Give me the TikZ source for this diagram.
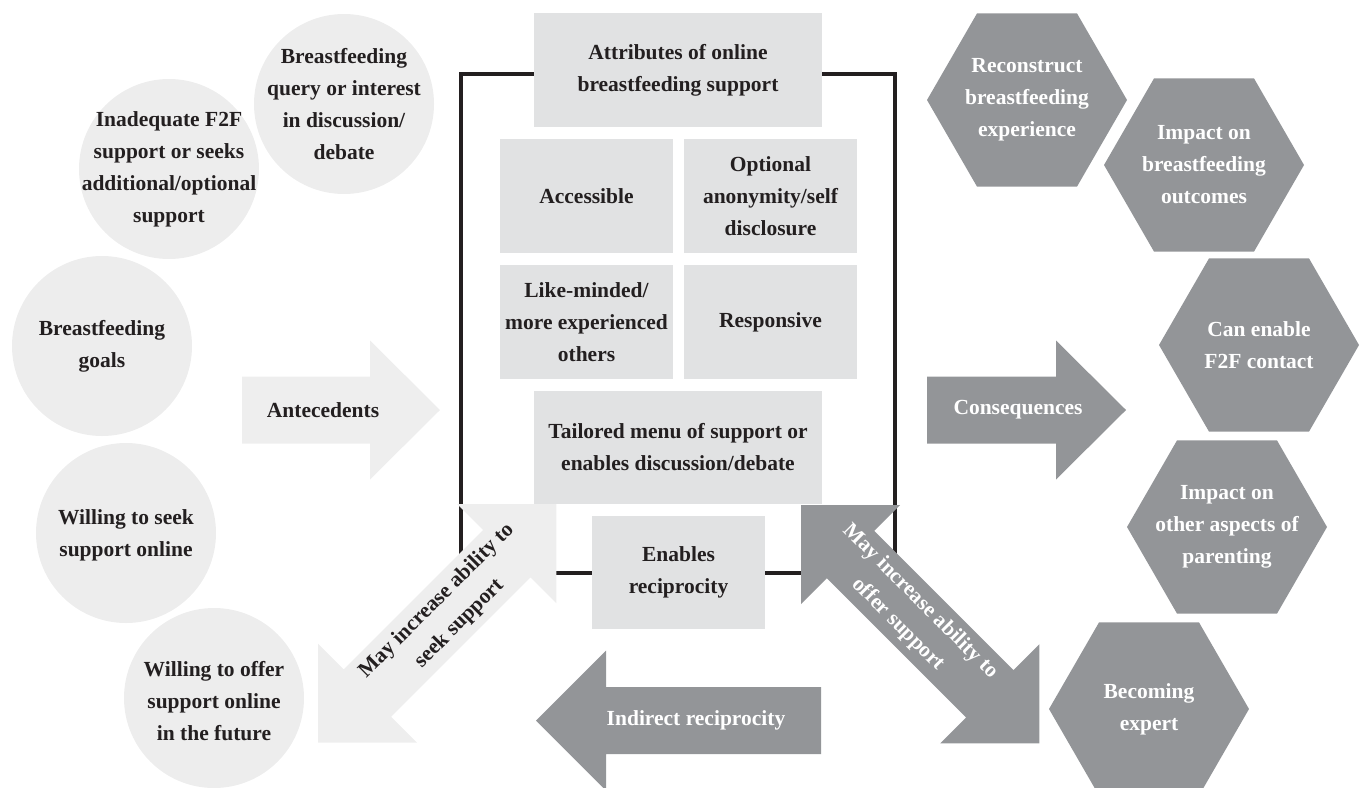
\documentclass[tikz,border=0pt]{standalone}
\usepackage{fontspec}
\setmainfont{Liberation Serif}
\usetikzlibrary{shapes.geometric}
\definecolor{circfill}{HTML}{EDEDED}
\definecolor{boxfill}{HTML}{E1E2E3}
\definecolor{lightarrow}{HTML}{EEEEEE}
\definecolor{darkfill}{HTML}{939598}
\definecolor{txt}{HTML}{231F20}
\begin{document}
\begin{tikzpicture}[x=1pt,y=-1pt,
  every node/.style={font=\fontsize{21.5}{32}\selectfont\bfseries, align=center, inner sep=0pt},
  circ/.style={circle, fill=circfill, minimum size=180pt},
  attr/.style={rectangle, fill=boxfill, text=txt, minimum width=173pt, minimum height=114pt},
  wideattr/.style={attr, minimum width=288pt},
  hex/.style={regular polygon, regular polygon sides=6, minimum size=200pt, fill=darkfill},
  lightlabel/.style={text=txt},
  darklabel/.style={text=white},
  frame/.style={draw=txt, line width=4.5pt},
  lightshape/.style={fill=lightarrow},
  darkshape/.style={fill=darkfill}]
\path[use as bounding box] (0,0) rectangle (1364,787);
\clip (0,0) rectangle (1364,787);

% antecedent circles
\node[circ] (c1) at (344,104) {};
\node[circ] (c2) at (169,169) {};
\node[circ] (c3) at (102,346) {};
\node[circ] (c4) at (126,533) {};
\node[circ] (c5) at (214,698) {};
\node[lightlabel] (c1t) at (c1) {Breastfeeding\\query or interest\\in discussion/\\debate};
\node[lightlabel] (c2t) at (c2) {Inadequate F2F\\support or seeks\\additional/optional\\support};
\node[lightlabel] (c3t) at (c3) {Breastfeeding\\goals};
\node[lightlabel] (c4t) at ([yshift=-2pt]c4) {Willing to seek\\support online};
\node[lightlabel] (c5t) at ([yshift=-3pt]c5) {Willing to offer\\support online\\in the future};

% frame
\draw[frame] (461,74) rectangle (895,573);

% attribute boxes
\node[wideattr] (attr) at (678,70) {Attributes of online\\breastfeeding support};
\node[attr] (acc) at (586.5,196) {Accessible};
\node[attr] (anon) at (770.5,196) {Optional\\anonymity/self\\disclosure};
\node[attr] (like) at (586.5,322) {Like-minded/\\more experienced\\others};
\node[attr] (resp) at (770.5,322) {Responsive};
\node[wideattr, minimum height=113pt] (tail) at (678,447.5) {Tailored menu of support or\\enables discussion/debate};
\node[attr, minimum height=113pt] (recip) at (678.5,572.5) {Enables\\reciprocity};

% antecedents arrow
\fill[lightshape] (242,376.5) -- (370,376.5) -- (370,340.5) -- (440,410) -- (370,479.5) -- (370,443.5) -- (242,443.5) -- cycle;
\node[lightlabel] (ante) at (323,410) {Antecedents};

% consequences arrow
\fill[darkshape] (927,376.5) -- (1056,376.5) -- (1056,340.5) -- (1126,410) -- (1056,479.5) -- (1056,443.5) -- (927,443.5) -- cycle;
\node[darklabel] (cons) at (1018,410) {Consequences};

% indirect reciprocity arrow
\fill[darkshape] (536,720.5) -- (606,650.5) -- (606,687) -- (821,687) -- (821,754) -- (606,754) -- (606,790.5) -- cycle;
\node[darklabel] (indir) at (696,720.5) {Indirect reciprocity};

% seek support double arrow
\begin{scope}[shift={(318,742.5)}, rotate=45]
\fill[lightshape] (0,0) -- (70,70) -- (70,33.5) -- (267,33.5) -- (267,70) -- (337,0) -- (267,-70) -- (267,-33.5) -- (70,-33.5) -- (70,-70) -- cycle;
\node[lightlabel, transform shape] (seek) at (184,0) {May increase ability to\\seek support};
\end{scope}

% offer support double arrow
\begin{scope}[shift={(801,505)}, rotate=-45]
\fill[darkshape] (0,0) -- (70,70) -- (70,33.5) -- (267,33.5) -- (267,70) -- (337,0) -- (267,-70) -- (267,-33.5) -- (70,-33.5) -- (70,-70) -- cycle;
\node[darklabel, transform shape] (offer) at (153,0) {May increase ability to\\offer support};
\end{scope}

% consequence hexagons
\node[hex] (h1) at (1027,100) {};
\node[hex] (h2) at (1204,165) {};
\node[hex] (h3) at (1259,345) {};
\node[hex] (h4) at (1227,527) {};
\node[hex] (h5) at (1149,709) {};
\node[darklabel] (h1t) at (h1) {Reconstruct\\breastfeeding\\experience};
\node[darklabel] (h2t) at (h2) {Impact on\\breastfeeding\\outcomes};
\node[darklabel] (h3t) at (h3) {Can enable\\F2F contact};
\node[darklabel] (h4t) at (h4) {Impact on\\other aspects of\\parenting};
\node[darklabel] (h5t) at (h5) {Becoming\\expert};
\end{tikzpicture}
\end{document}
